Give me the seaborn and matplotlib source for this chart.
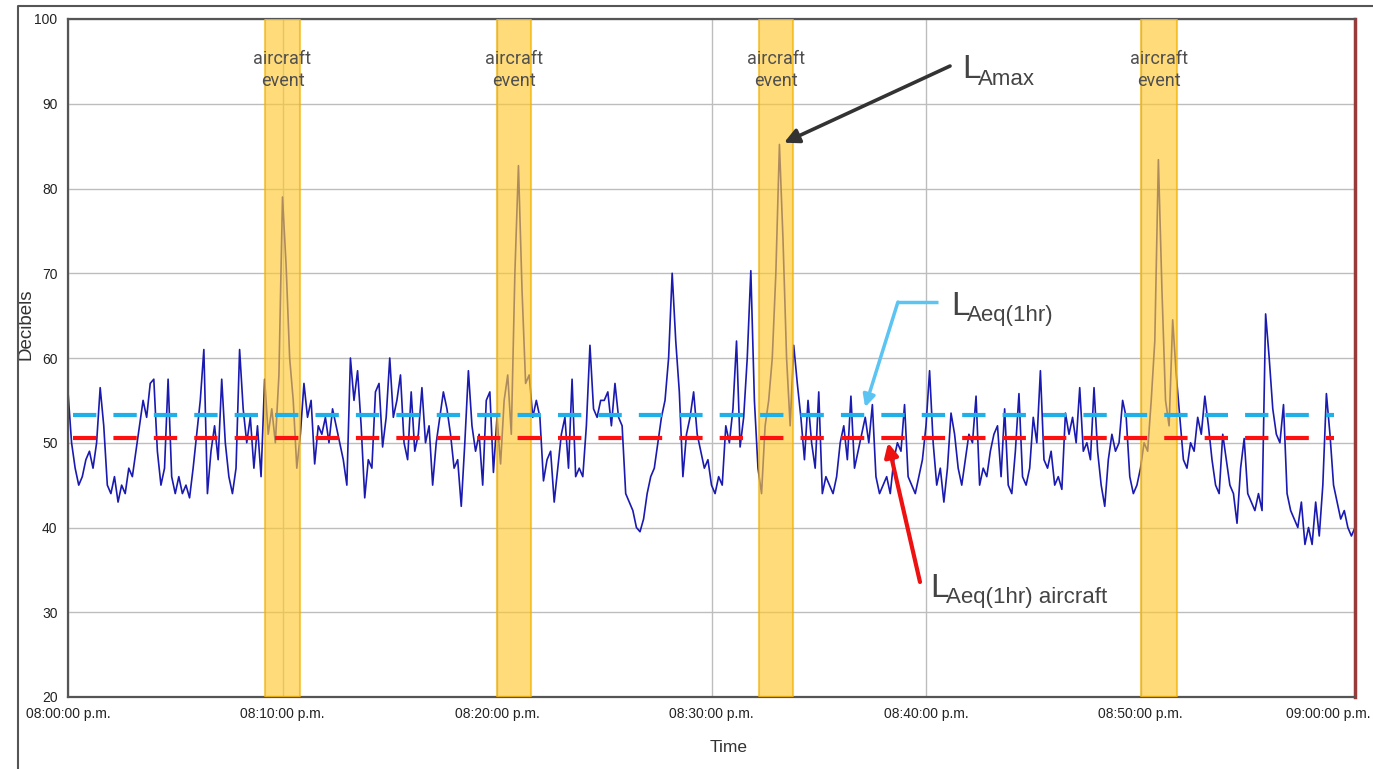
import matplotlib
matplotlib.use('Agg')
import matplotlib.pyplot as plt
import matplotlib.transforms as mtransforms
import seaborn as sns
import pandas as pd
import numpy as np
from matplotlib.lines import Line2D

# sound level readings, one every 10 seconds, 08:00 -> 09:00 p.m.
sample_step_min = 1 / 6
levels_db = [
    56, 50, 47, 45, 46, 48,        # 08:00
    49, 47, 50, 56.5, 52, 45,
    44, 46, 43, 45, 44, 47,
    46, 49, 52, 55, 53, 57,
    57.5, 49, 45, 47, 57.5, 46,
    44, 46, 44, 45, 43.5, 47,      # 08:05
    51, 55, 61, 44, 49, 52,
    48, 57.5, 50, 46, 44, 47,
    61, 54, 50, 53, 47, 52,
    46, 57.5, 51, 54, 50, 58,
    79, 71, 60, 55, 47, 51,        # 08:10
    57, 53, 55, 47.5, 52, 51,
    53, 50, 54, 52, 50, 48,
    45, 60, 55, 58.5, 52, 43.5,
    48, 47, 56, 57, 49.5, 53,
    60, 53, 55, 58, 50, 48,        # 08:15
    56, 49, 51, 56.5, 50, 52,
    45, 50, 53, 56, 54, 51,
    47, 48, 42.5, 50, 58.5, 52,
    49, 51, 45, 55, 56, 46.5,
    53, 47.5, 55, 58, 51, 70,      # 08:20
    82.7, 68, 57, 58, 53, 55,
    53, 45.5, 48, 49, 43, 47,
    51, 53, 47, 57.5, 46, 47,
    46, 52, 61.5, 54, 53, 55,
    55, 56, 52, 57, 53, 52,        # 08:25
    44, 43, 42, 40, 39.5, 41,
    44, 46, 47, 50, 53, 55,
    60, 70, 62, 56, 46, 51,
    53, 56, 51, 49, 47, 48,
    45, 44, 46, 45, 52, 50,        # 08:30
    54, 62, 49.5, 53, 60, 70.3,
    55, 47, 44, 52, 55, 60,
    70, 85.2, 74, 60, 52, 61.5,
    57, 53, 48, 55, 50, 47,
    56, 44, 46, 45, 44, 46,        # 08:35
    50, 52, 48, 55.5, 47, 49,
    51, 53, 50, 54.5, 46, 44,
    45, 46, 44, 48, 50, 49,
    54.5, 46, 45, 44, 46, 48,
    52, 58.5, 50, 45, 47, 43,      # 08:40
    47, 53.5, 51, 47, 45, 48,
    51, 50, 55.5, 45, 47, 46,
    49, 51, 52, 46, 54, 45,
    44, 49, 55.8, 46, 45, 47,
    53, 50, 58.5, 48, 47, 49,      # 08:45
    45, 46, 44.5, 53.5, 51, 53,
    50, 56.5, 49, 50, 48, 56.5,
    49, 45, 42.5, 48, 51, 49,
    50, 55, 53, 46, 44, 45,
    47, 50, 49, 55, 62, 83.4,      # 08:50
    68, 55, 52, 64.5, 58, 53,
    48, 47, 50, 49, 53, 51,
    55.5, 52, 48, 45, 44, 51,
    48, 45, 44, 40.5, 47, 50.5,
    44, 43, 42, 44, 42, 65.2,      # 08:55
    60, 54, 51, 50, 54.5, 44,
    42, 41, 40, 43, 38, 40,
    38, 43, 39, 45, 55.8, 51,
    45, 43, 41, 42, 40, 39,
    40,                            # 09:00
]

# aircraft event windows (minutes after 08:00)
event_start = [9.2, 20.0, 32.2, 50.0]
event_end = [10.8, 21.6, 33.8, 51.7]

laeq_1hr = 53.3
laeq_1hr_aircraft = 50.6

tick_minutes = [0, 10, 20, 30, 40, 50, 60]
tick_labels = ['08:00:00 p.m.', '08:10:00 p.m.', '08:20:00 p.m.', '08:30:00 p.m.',
               '08:40:00 p.m.', '08:50:00 p.m.', '09:00:00 p.m.']
y_ticks = [20, 30, 40, 50, 60, 70, 80, 90, 100]

sns.set_style('white')
plt.rcParams['font.family'] = ['Liberation Sans', 'DejaVu Sans']

df = pd.DataFrame({'minute': np.arange(len(levels_db)) * sample_step_min,
                   'db': levels_db})

fig = plt.figure(figsize=(13.73, 7.69), dpi=100)
ax = fig.add_axes([68 / 1373, 1 - 697 / 769, 1287 / 1373, 678 / 769])

ax.set_xlim(0, 60)
ax.set_ylim(20, 100)
ax.set_xticks(tick_minutes)
ax.set_xticklabels(tick_labels)
ax.set_yticks(y_ticks)
ax.grid(True, color='#bdbdbd', lw=1.0, zorder=0)
ax.set_axisbelow(True)

sns.lineplot(data=df, x='minute', y='db', ax=ax, estimator=None,
             color='#1a1ab0', lw=1.2, zorder=2)

for s, e in zip(event_start, event_end):
    ax.axvspan(s, e, facecolor='#ffc933', alpha=0.65, edgecolor='#f0b000',
               lw=1.5, zorder=3)
    ax.text((s + e) / 2, 96.4, 'aircraft\nevent', ha='center', va='top',
            fontsize=13, color='#505050', family=['Roboto', 'DejaVu Sans'],
            linespacing=1.3, zorder=6)

# hourly equivalent levels
ax.plot([0.25, 59.0], [laeq_1hr, laeq_1hr], color='#1eb0e6', lw=3.0,
        linestyle=(0, (5.6, 4.1)), zorder=4)
ax.plot([0.25, 59.0], [laeq_1hr_aircraft, laeq_1hr_aircraft], color='#ff1010',
        lw=3.0, linestyle=(0, (5.6, 4.1)), zorder=4)

# annotations
ann_color = '#444444'
ax.annotate('', xy=(33.38, 85.4), xytext=(41.12, 94.45),
            arrowprops=dict(arrowstyle='-|>', color='#333333', lw=2.6,
                            mutation_scale=22, shrinkA=0, shrinkB=0), zorder=7)
ax.text(41.68, 93.04, 'L', fontsize=24, color=ann_color, va='baseline', zorder=7)
ax.text(42.42, 92.2, 'Amax', fontsize=16, color=ann_color, va='baseline', zorder=7)

ax.plot([40.56, 38.69], [66.6, 66.6], color='#5cc4f2', lw=2.5, zorder=7,
        solid_capstyle='butt')
ax.annotate('', xy=(37.16, 54.2), xytext=(38.69, 66.6),
            arrowprops=dict(arrowstyle='-|>', color='#5cc4f2', lw=2.5,
                            mutation_scale=18, shrinkA=0, shrinkB=0), zorder=7)
ax.text(41.17, 65.07, 'L', fontsize=24, color=ann_color, va='baseline', zorder=7)
ax.text(41.91, 64.4, 'Aeq(1hr)', fontsize=16, color=ann_color, va='baseline', zorder=7)

ax.annotate('', xy=(38.23, 50.0), xytext=(39.72, 33.57),
            arrowprops=dict(arrowstyle='-|>', color='#ee1111', lw=3.0,
                            mutation_scale=20, shrinkA=0, shrinkB=0), zorder=7)
ax.text(40.19, 31.8, 'L', fontsize=24, color=ann_color, va='baseline', zorder=7)
ax.text(40.93, 31.1, 'Aeq(1hr) aircraft', fontsize=16, color=ann_color,
        va='baseline', zorder=7)

# axes frame
for side in ['left', 'bottom', 'top']:
    ax.spines[side].set_color('#555555')
    ax.spines[side].set_linewidth(1.6)
ax.spines['right'].set_color('#9a3b3b')
ax.spines['right'].set_linewidth(2.5)

ax.tick_params(axis='both', labelsize=10, colors='#222222', length=4,
               width=1, direction='out')
ax.tick_params(axis='x', pad=3)

# keep the last time label inside the picture
last = ax.get_xticklabels()[-1]
last.set_horizontalalignment('right')
last.set_transform(last.get_transform() +
                   mtransforms.ScaledTranslation(0.16, 0, fig.dpi_scale_trans))

ax.set_xlabel('Time', fontsize=12.5, color='#333333')
ax.set_ylabel('Decibels', fontsize=13.5, color='#333333')
ax.xaxis.set_label_coords(0.513, -0.063)
ax.xaxis.label.set_va('top')
ax.yaxis.set_label_coords(-0.0264, 0.55)

# outer frame of the picture
fig.add_artist(Line2D([18 / 1373, 18 / 1373, 1], [0, 1 - 6 / 769, 1 - 6 / 769],
                      transform=fig.transFigure, color='#555555', lw=1.5))

fig.savefig('out.png', dpi=100)
